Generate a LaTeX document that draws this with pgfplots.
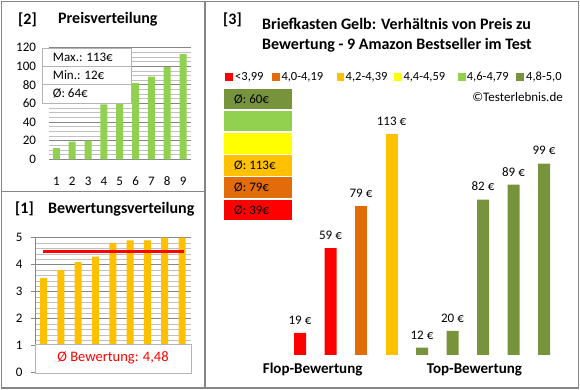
\documentclass[border=0pt]{standalone}
\usepackage{fontspec}
\setmainfont{Carlito}
\usepackage{pgfplots}
\pgfplotsset{compat=1.18}
\definecolor{bordergray}{RGB}{134,134,134}
\definecolor{gridmaj}{RGB}{134,134,134}
\definecolor{gridmin}{RGB}{192,192,192}
\definecolor{boxgray}{RGB}{180,180,180}
\definecolor{barlg}{RGB}{146,208,80}
\definecolor{barora}{RGB}{255,192,0}
\definecolor{olivetwo}{RGB}{119,147,60}
\definecolor{dorange}{RGB}{227,108,10}
\definecolor{ored}{RGB}{255,0,0}
\definecolor{yel}{RGB}{255,255,0}
\newcommand{\fs}[1]{\fontsize{#1pt}{#1pt}\selectfont}
\begin{document}
\begin{tikzpicture}[x=1pt,y=1pt]
\useasboundingbox (0,0) rectangle (580,390);
% ---------- top-left: Preisverteilung ----------
\begin{axis}[
  at={(48.5pt,230.7pt)}, anchor=south west,
  scale only axis, width=142.5pt, height=111.6pt,
  xmin=0.5, xmax=9.5, ymin=0, ymax=120,
  xtick={1,...,9}, ytick={0,20,...,120}, minor y tick num=3,
  ymajorgrids, yminorgrids,
  major grid style={gridmaj, line width=0.8pt},
  minor grid style={gridmin, line width=0.8pt},
  axis line style={draw=none}, tick style={draw=none},
  ticklabel style={font=\fs{13}},
  /pgf/number format/assume math mode=true,
  yticklabel style={xshift=-9pt},
  xticklabel style={yshift=-14pt},
]
\addplot[ybar, bar width=7pt, bar shift=0pt, fill=barlg, draw=none]
  coordinates {(1,12) (2,19) (3,20) (4,59) (5,79) (6,82) (7,89) (8,99) (9,113)};
\end{axis}
\draw[boxgray, fill=white, line width=0.8pt] (42.7,286.7) rectangle (131,341.7);
\draw[boxgray, line width=0.8pt] (42.7,323.3) -- (131,323.3);
\draw[boxgray, line width=0.8pt] (42.7,305.7) -- (131,305.7);
\node[anchor=west, inner sep=0, font=\fs{13}] at (52.7,332.5) {Max.: 113€};
\node[anchor=west, inner sep=0, font=\fs{13}] at (52.7,314.5) {Min.: 12€};
\node[anchor=west, inner sep=0, font=\fs{13}] at (52.7,296.2) {Ø: 64€};
\node[anchor=base west, inner sep=0, font=\fs{16}\bfseries] at (18,365.5) {[2]};
\node[anchor=base west, inner sep=0, font=\fs{16}\bfseries] at (58,366) {Preisverteilung};
% ---------- bottom-left: Bewertungsverteilung ----------
\begin{axis}[
  at={(35pt,17.3pt)}, anchor=south west,
  scale only axis, width=155.7pt, height=135pt,
  xmin=0.5, xmax=9.5, ymin=0, ymax=5,
  xtick=\empty, ytick={0,...,5}, minor y tick num=4,
  ymajorgrids, yminorgrids,
  major grid style={gridmaj, line width=0.8pt},
  minor grid style={gridmin, line width=0.8pt},
  axis y line*=left, axis x line*=bottom,
  y axis line style={bordergray, line width=0.8pt},
  x axis line style={draw=none},
  ytick style={bordergray, line width=0.8pt},
  tick align=outside, major tick length=4pt, minor tick length=0pt,
  ticklabel style={font=\fs{13}},
  /pgf/number format/assume math mode=true,
  yticklabel style={xshift=-5pt},
]
\addplot[ybar, bar width=7pt, bar shift=0pt, fill=barora, draw=none]
  coordinates {(1,3.5) (2,3.8) (3,4.1) (4,4.3) (5,4.8) (6,4.9) (7,4.9) (8,5.0) (9,5.0)};
\addplot[ored, line width=3.5pt, mark=none] coordinates {(0.95,4.48) (9.1,4.48)};
\end{axis}
\draw[boxgray, fill=white, line width=0.8pt] (35,17) rectangle (191,46);
\node[font=\fs{14.5}, text=ored, inner sep=0] at (113,32) {Ø Bewertung: 4,48};
\node[anchor=base west, inner sep=0, font=\fs{16}\bfseries] at (15,176) {[1]};
\node[anchor=base west, inner sep=0, font=\fs{16}\bfseries] at (48,176) {Bewertungsverteilung};
% ---------- right: Preis zu Bewertung ----------
\begin{axis}[
  at={(284.75pt,35pt)}, anchor=south west,
  scale only axis, width=274.5pt, height=254.9pt,
  xmin=0.5, xmax=9.5, ymin=8.55, ymax=129,
  axis line style={draw=none}, xtick=\empty, ytick=\empty,
  /pgf/number format/assume math mode=true,
  nodes near coords={\pgfmathprintnumber{\pgfplotspointmeta}~€},
  nodes near coords style={font=\fs{13}, yshift=5pt},
]
\addplot[ybar, bar width=12pt, bar shift=0pt, fill=ored, draw=none]
  coordinates {(1,19) (2,59)};
\addplot[ybar, bar width=12pt, bar shift=0pt, fill=dorange, draw=none]
  coordinates {(3,79)};
\addplot[ybar, bar width=12pt, bar shift=0pt, fill=barora, draw=none]
  coordinates {(4,113)};
\addplot[ybar, bar width=12pt, bar shift=0pt, fill=olivetwo, draw=none]
  coordinates {(5,12) (6,20) (7,82) (8,89) (9,99)};
\end{axis}
\node[anchor=base west, inner sep=0, font=\fs{16}\bfseries] at (223,365.3) {[3]};
\node[anchor=base west, inner sep=0, font=\fs{16}\bfseries] at (262,360) {Briefkasten Gelb: Verhältnis von Preis zu};
\node[anchor=base west, inner sep=0, font=\fs{16}\bfseries] at (262,340.7) {Bewertung - 9 Amazon Bestseller im Test};
% legend
\fill[ored] (225,309.3) rectangle (232.5,316.7);
\node[anchor=base west, inner sep=0, font=\fs{12.5}] at (235,309) {<3,99};
\fill[dorange] (272.3,309.3) rectangle (279.8,316.7);
\node[anchor=base west, inner sep=0, font=\fs{12.5}] at (281.3,309) {4,0-4,19};
\fill[barora] (336.7,309.3) rectangle (344.2,316.7);
\node[anchor=base west, inner sep=0, font=\fs{12.5}] at (345.5,309) {4,2-4,39};
\fill[yel] (394.3,309.3) rectangle (401.8,316.7);
\node[anchor=base west, inner sep=0, font=\fs{12.5}] at (403.3,309) {4,4-4,59};
\fill[barlg] (458.3,309.3) rectangle (465.8,316.7);
\node[anchor=base west, inner sep=0, font=\fs{12.5}] at (466.7,309) {4,6-4,79};
\fill[olivetwo] (516,309.3) rectangle (523.5,316.7);
\node[anchor=base west, inner sep=0, font=\fs{12.5}] at (526,309) {4,8-5,0};
\node[anchor=base east, inner sep=0, font=\fs{13}] at (563,288.8) {©Testerlebnis.de};
% average boxes
\fill[olivetwo] (224,280.8) rectangle (292,301.3);
\fill[barlg] (224,258.6) rectangle (292,279.1);
\fill[yel] (224,236.4) rectangle (292,256.9);
\fill[barora] (224,214.2) rectangle (292,234.7);
\fill[dorange] (224,192) rectangle (292,212.5);
\fill[ored] (224,169.8) rectangle (292,190.3);
\node[anchor=west, inner sep=0, font=\fs{13}] at (234,291) {Ø: 60€};
\node[anchor=west, inner sep=0, font=\fs{13}] at (234,224.4) {Ø: 113€};
\node[anchor=west, inner sep=0, font=\fs{13}] at (234,202.2) {Ø: 79€};
\node[anchor=west, inner sep=0, font=\fs{13}] at (234,180) {Ø: 39€};
\node[anchor=base west, inner sep=0, font=\fs{15}\bfseries] at (262.7,16.7) {Flop-Bewertung};
\node[anchor=base west, inner sep=0, font=\fs{15}\bfseries] at (426.7,16.7) {Top-Bewertung};
% borders
\draw[bordergray, line width=1.2pt] (1.5,2) rectangle (578.5,388.5);
\draw[bordergray, line width=1.2pt] (205,2) -- (205,388.5);
\draw[bordergray, line width=1.2pt] (1.5,198.3) -- (205,198.3);
\end{tikzpicture}
\end{document}
